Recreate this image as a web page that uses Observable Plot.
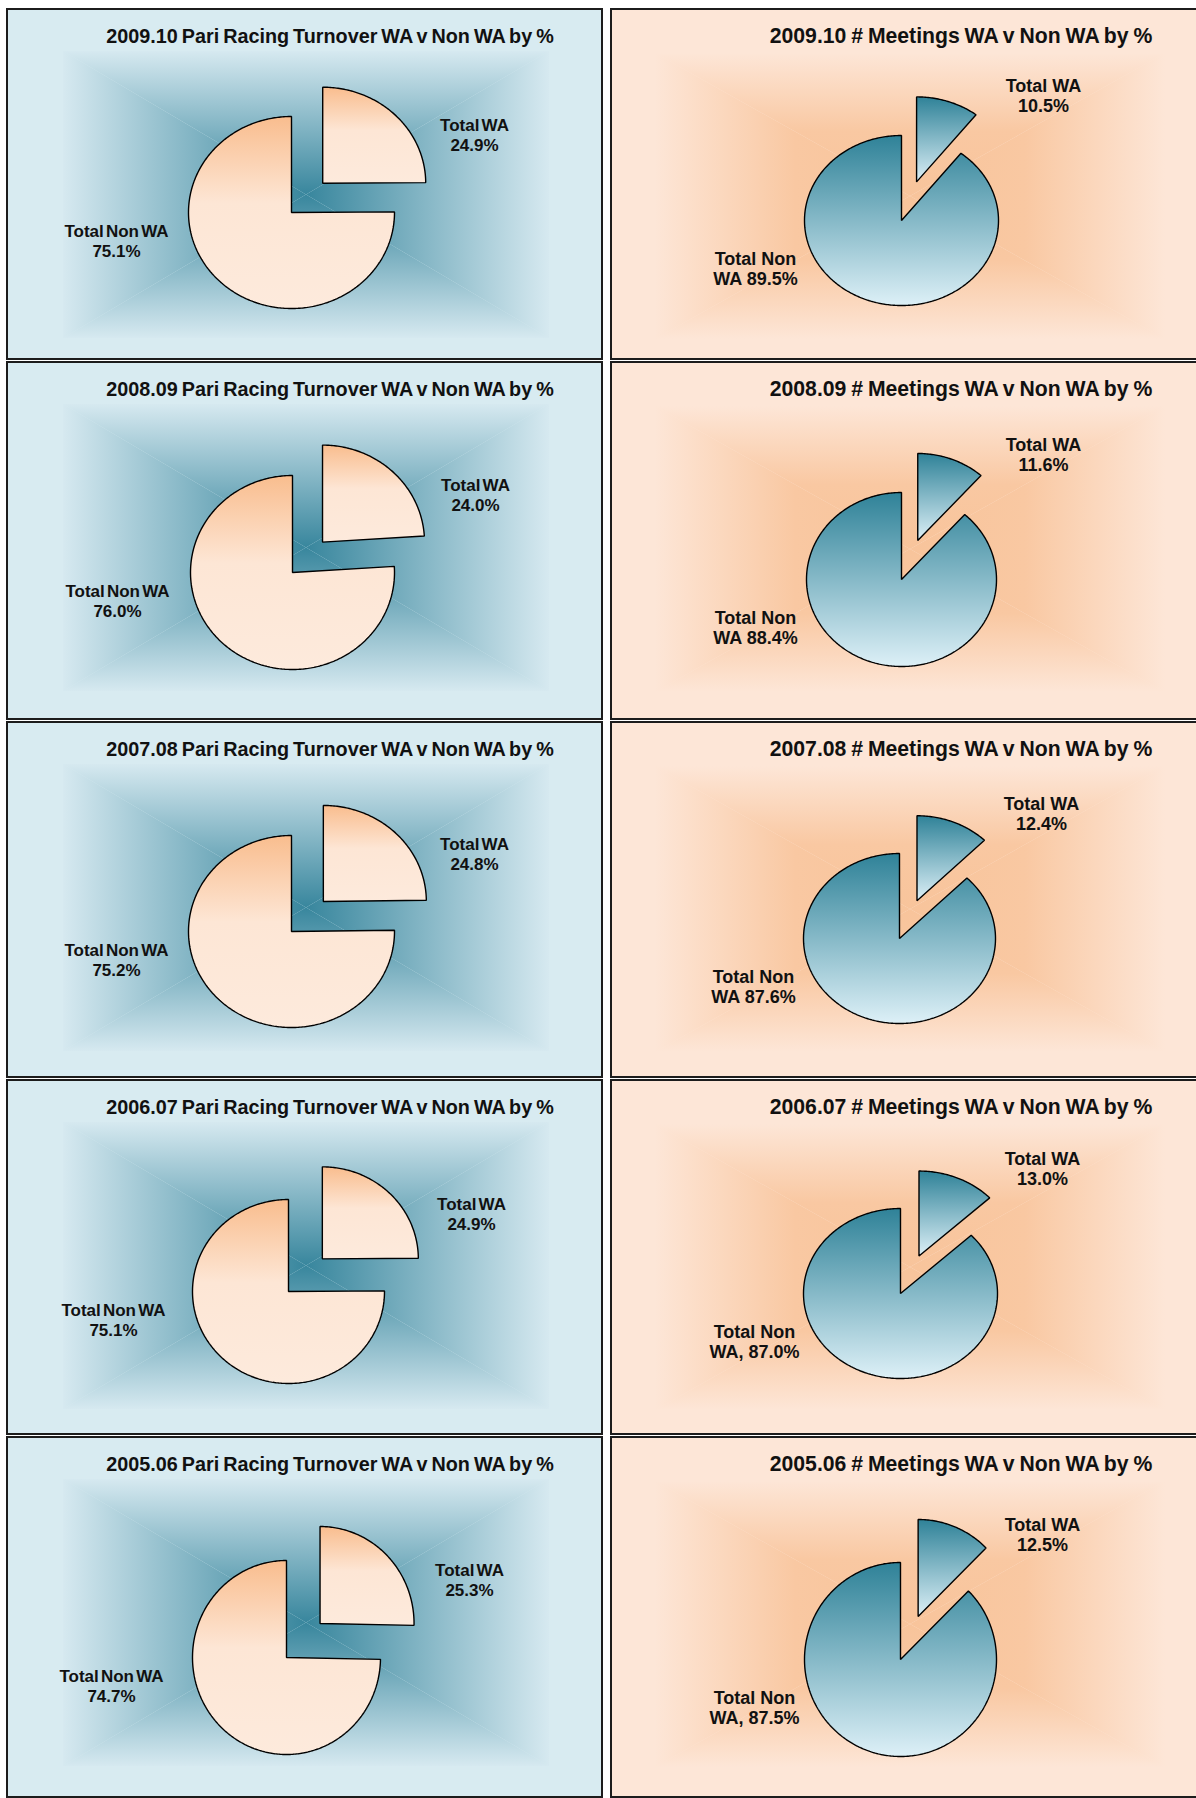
<!DOCTYPE html>
<html>
<head>
<meta charset="utf-8">
<script src="https://cdn.jsdelivr.net/npm/d3@7"></script>
<script src="https://cdn.jsdelivr.net/npm/@observablehq/plot@0.6"></script>
<style>
html, body { margin: 0; padding: 0; background: #ffffff; }
body { width: 1196px; height: 1798px; overflow: hidden; position: relative; font-family: "Liberation Sans", Arial, sans-serif; }
.panel { position: absolute; box-sizing: border-box; border: 2px solid #1c1c1c; overflow: hidden; }
.panel.left { background: #d8ebf1; }
.panel.right { background: #fde6d7; }
.panel svg { position: absolute; left: 0; top: 0; }
.title { position: absolute; white-space: nowrap; font-weight: bold; color: #111; transform: translate(-50%, -50%); line-height: 1; }
.panel.left .title { font-size: 19.8px; word-spacing: -1.5px; }
.panel.right .title { font-size: 21.2px; word-spacing: -1px; }
.panel.left svg text { word-spacing: -2.5px; }
</style>
</head>
<body>
<svg width="0" height="0" style="position:absolute">
  <defs>
    <linearGradient id="bgL-top" x1="0" y1="0" x2="0" y2="1"><stop offset="0" stop-color="#d6e9f0"/><stop offset="1" stop-color="#38869d"/></linearGradient>
    <linearGradient id="bgL-bottom" x1="0" y1="1" x2="0" y2="0"><stop offset="0" stop-color="#d6e9f0"/><stop offset="1" stop-color="#38869d"/></linearGradient>
    <linearGradient id="bgL-left" x1="0" y1="0" x2="1" y2="0"><stop offset="0" stop-color="#d6e9f0"/><stop offset="1" stop-color="#38869d"/></linearGradient>
    <linearGradient id="bgL-right" x1="1" y1="0" x2="0" y2="0"><stop offset="0" stop-color="#d6e9f0"/><stop offset="1" stop-color="#38869d"/></linearGradient>
    <linearGradient id="bgR-top" x1="0" y1="0" x2="0" y2="1"><stop offset="0" stop-color="#fde6d7"/><stop offset="0.55" stop-color="#f9c8a2"/><stop offset="1" stop-color="#f8c49b"/></linearGradient>
    <linearGradient id="bgR-bottom" x1="0" y1="1" x2="0" y2="0"><stop offset="0" stop-color="#fde6d7"/><stop offset="0.55" stop-color="#f9c8a2"/><stop offset="1" stop-color="#f8c49b"/></linearGradient>
    <linearGradient id="bgR-left" x1="0" y1="0" x2="1" y2="0"><stop offset="0" stop-color="#fde6d7"/><stop offset="0.55" stop-color="#f9c8a2"/><stop offset="1" stop-color="#f8c49b"/></linearGradient>
    <linearGradient id="bgR-right" x1="1" y1="0" x2="0" y2="0"><stop offset="0" stop-color="#fde6d7"/><stop offset="0.55" stop-color="#f9c8a2"/><stop offset="1" stop-color="#f8c49b"/></linearGradient>
    <linearGradient id="pieL" x1="0" y1="0" x2="0" y2="1"><stop offset="0" stop-color="#f9bd8e"/><stop offset="0.45" stop-color="#fde6d5"/><stop offset="1" stop-color="#fdeadc"/></linearGradient>
    <linearGradient id="pieR" x1="0" y1="0" x2="0" y2="1"><stop offset="0" stop-color="#2f8298"/><stop offset="1" stop-color="#ddf0f7"/></linearGradient>
  </defs>
</svg>
<script>
// ---------------- DATA ----------------
const years = ["2009.10", "2008.09", "2007.08", "2006.07", "2005.06"];
const categories = ["Total WA", "Total Non WA"];
const turnoverWA = [24.9, 24.0, 24.8, 24.9, 25.3];
const turnoverNonWA = [75.1, 76.0, 75.2, 75.1, 74.7];
const meetingsWA = [10.5, 11.6, 12.4, 13.0, 12.5];
const meetingsNonWA = [89.5, 88.4, 87.6, 87.0, 87.5];
const turnoverTitle = "Pari Racing Turnover WA v Non WA by %";
const meetingsTitle = "# Meetings WA v Non WA by %";
const meetingsNonWASep = [" ", " ", " ", ", ", ", "];

// ---------------- LAYOUT ----------------
const rowTops = [8, 361, 721, 1079, 1436];
const rowHeights = [352, 359, 357, 356, 362];
const colLefts = [6, 610];
const panelWidth = 597;
// pie geometry per panel (outer-panel pixel units)
const leftPies = [
  {cx: 285, cy: 204, rx: 103, ry: 96, ex: 0.43},
  {cx: 286, cy: 211, rx: 102, ry: 97, ex: 0.43},
  {cx: 285, cy: 210, rx: 103, ry: 96, ex: 0.44},
  {cx: 282, cy: 212, rx: 96, ry: 92, ex: 0.50},
  {cx: 280, cy: 221, rx: 94, ry: 97, ex: 0.50}
];
const rightPies = [
  {cx: 291, cy: 212, rx: 97, ry: 85, ex: 0.48},
  {cx: 291, cy: 218, rx: 95, ry: 87, ex: 0.48},
  {cx: 289, cy: 217, rx: 96, ry: 85, ex: 0.48},
  {cx: 290, cy: 214, rx: 97, ry: 85, ex: 0.48},
  {cx: 290, cy: 223, rx: 96, ry: 97, ex: 0.48}
];
const themes = {
  left: {bg: "bgL", pie: "pieL", rect: {x0: 57, y0: 43, x1: 543, y1: 330}, titleX: 324, titleY: 29, labelSize: 17,
         labelOffset: [[183, -78], [-175, 28]]},
  right: {bg: "bgR", pie: "pieR", rect: {x0: 45, y0: 45, x1: 555, y1: 331}, titleX: 351, titleY: 28, labelSize: 18,
          labelOffset: [[142, -125], [-146, 48]]}
};

function backgroundMark(theme) {
  return (index, scales) => {
    const {x0, y0, x1, y1} = theme.rect;
    const X = scales.x, Y = scales.y;
    const cx = (x0 + x1) / 2, cy = (y0 + y1) / 2;
    const tris = [
      ["top", [[x0, y0], [x1, y0], [cx, cy]]],
      ["bottom", [[x0, y1], [x1, y1], [cx, cy]]],
      ["left", [[x0, y0], [x0, y1], [cx, cy]]],
      ["right", [[x1, y0], [x1, y1], [cx, cy]]]
    ];
    const g = d3.create("svg:g");
    for (const [name, pts] of tris) {
      g.append("polygon")
        .attr("points", pts.map(([a, b]) => `${X(a)},${Y(b)}`).join(" "))
        .attr("fill", `url(#${theme.bg}-${name})`);
    }
    return g.node();
  };
}

function makePanel(col, row, values, labels, titleText) {
  const theme = col === 0 ? themes.left : themes.right;
  const geo = col === 0 ? leftPies[row] : rightPies[row];
  const W = panelWidth, H = rowHeights[row];

  const slices = values.map((v, i) => ({name: categories[i], value: v, label: labels[i]}));
  const arcs = d3.pie().sort(null).value(d => d.value)(slices);
  const pts = [];
  const labelData = [];
  arcs.forEach((a, i) => {
    const exp = i === 0 ? geo.ex : 0;
    const mid = (a.startAngle + a.endAngle) / 2;
    const ox = geo.cx + exp * geo.rx * Math.sin(mid);
    const oy = geo.cy - exp * geo.ry * Math.cos(mid);
    pts.push({slice: a.data.name, x: ox, y: oy});
    const n = Math.max(4, Math.ceil((a.endAngle - a.startAngle) / 0.015));
    for (let k = 0; k <= n; k++) {
      const t = a.startAngle + (a.endAngle - a.startAngle) * k / n;
      pts.push({slice: a.data.name, x: ox + geo.rx * Math.sin(t), y: oy - geo.ry * Math.cos(t)});
    }
    const [dx, dy] = theme.labelOffset[i];
    labelData.push({x: geo.cx + dx, y: geo.cy + dy, text: a.data.label});
  });

  const plot = Plot.plot({
    width: W - 4,
    height: H - 4,
    margin: 0,
    x: {domain: [2, W - 2], range: [0, W - 4], axis: null},
    y: {domain: [2, H - 2], range: [0, H - 4], axis: null},
    style: {background: "transparent", fontFamily: "'Liberation Sans', Arial, sans-serif", overflow: "visible"},
    marks: [
      backgroundMark(theme),
      Plot.line(pts, {x: "x", y: "y", z: "slice", curve: "linear-closed", fill: `url(#${theme.pie})`, stroke: "#000", strokeWidth: 1.4, strokeLinejoin: "miter"}),
      Plot.text(labelData, {x: "x", y: "y", text: "text", fontSize: theme.labelSize, fontWeight: "bold", fill: "#111", lineHeight: 1.15})
    ]
  });

  const div = document.createElement("div");
  div.className = "panel " + (col === 0 ? "left" : "right");
  div.style.left = colLefts[col] + "px";
  div.style.top = rowTops[row] + "px";
  div.style.width = W + "px";
  div.style.height = H + "px";
  div.appendChild(plot);
  const t = document.createElement("div");
  t.className = "title";
  t.textContent = titleText;
  t.style.left = (theme.titleX - 2) + "px";
  t.style.top = (theme.titleY - 2) + "px";
  div.appendChild(t);
  document.body.appendChild(div);
}

years.forEach((yr, r) => {
  makePanel(0, r, [turnoverWA[r], turnoverNonWA[r]],
    [`${categories[0]}\n${turnoverWA[r].toFixed(1)}%`, `${categories[1]}\n${turnoverNonWA[r].toFixed(1)}%`],
    `${yr} ${turnoverTitle}`);
  makePanel(1, r, [meetingsWA[r], meetingsNonWA[r]],
    [`${categories[0]}\n${meetingsWA[r].toFixed(1)}%`, `Total Non\nWA${meetingsNonWASep[r]}${meetingsNonWA[r].toFixed(1)}%`],
    `${yr} ${meetingsTitle}`);
});
</script>
</body>
</html>
